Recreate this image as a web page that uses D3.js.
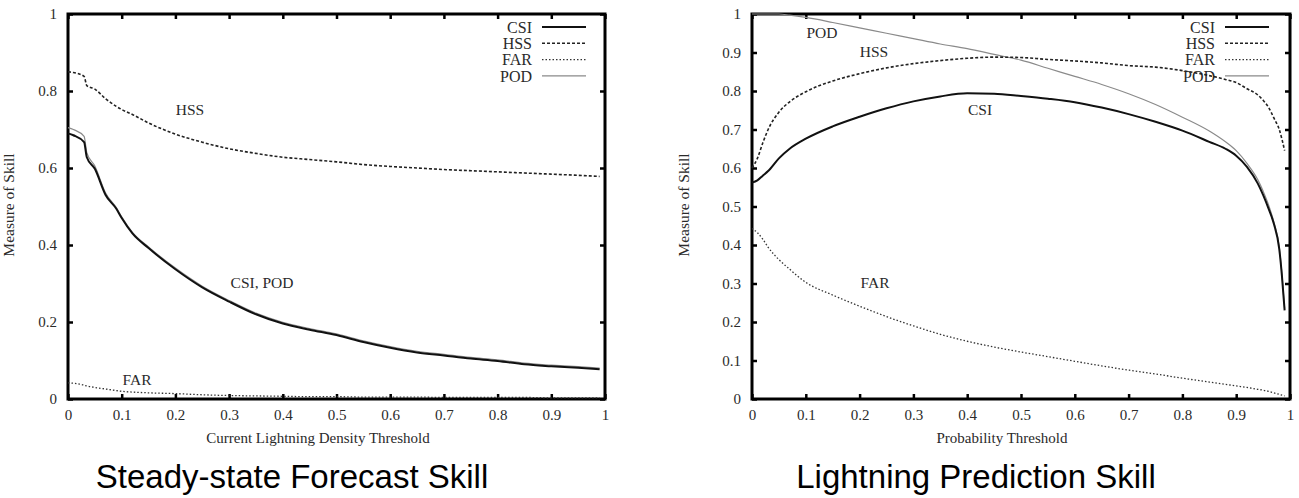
<!DOCTYPE html>
<html>
<head>
<meta charset="utf-8">
<script src="https://cdn.jsdelivr.net/npm/d3@7"></script>
<style>
  body { margin: 0; background: #fff; }
  svg { display: block; }
  .serif { font-family: "Liberation Serif", "Times New Roman", serif; fill: #2a2a2a; }
</style>
</head>
<body>
<div id="chart"></div>
<script>
// ---- data ----
let leftX = [0, 0.01, 0.03, 0.035, 0.05, 0.07, 0.09, 0.1, 0.12, 0.15, 0.2, 0.25, 0.3, 0.35, 0.4, 0.45, 0.5, 0.55, 0.6, 0.65, 0.7, 0.75, 0.8, 0.85, 0.9, 0.95, 0.99]
let leftCSI = [0.690, 0.685, 0.667, 0.628, 0.598, 0.530, 0.494, 0.470, 0.430, 0.392, 0.337, 0.290, 0.253, 0.220, 0.196, 0.180, 0.166, 0.148, 0.133, 0.121, 0.113, 0.105, 0.099, 0.090, 0.085, 0.081, 0.077]
let leftHSS = [0.850, 0.848, 0.838, 0.814, 0.805, 0.780, 0.760, 0.752, 0.739, 0.717, 0.688, 0.667, 0.650, 0.638, 0.628, 0.622, 0.616, 0.609, 0.604, 0.600, 0.596, 0.593, 0.590, 0.587, 0.584, 0.581, 0.578]
let leftFAR = [0.042, 0.041, 0.036, 0.034, 0.030, 0.026, 0.022, 0.020, 0.018, 0.016, 0.014, 0.011, 0.009, 0.008, 0.007, 0.006, 0.006, 0.005, 0.005, 0.005, 0.004, 0.004, 0.004, 0.004, 0.003, 0.003, 0.003]
let leftPOD = [0.705, 0.700, 0.682, 0.640, 0.605, 0.535, 0.497, 0.473, 0.433, 0.395, 0.340, 0.293, 0.256, 0.223, 0.199, 0.183, 0.169, 0.151, 0.136, 0.124, 0.116, 0.108, 0.102, 0.093, 0.088, 0.084, 0.080]

let rightX = [0, 0.01, 0.02, 0.03, 0.05, 0.07, 0.1, 0.15, 0.2, 0.25, 0.3, 0.35, 0.4, 0.45, 0.5, 0.55, 0.6, 0.65, 0.7, 0.75, 0.8, 0.85, 0.88, 0.9, 0.92, 0.94, 0.95, 0.96, 0.97, 0.98, 0.985, 0.99]
let rightCSI = [0.562, 0.568, 0.580, 0.592, 0.625, 0.650, 0.676, 0.708, 0.733, 0.755, 0.773, 0.786, 0.794, 0.793, 0.787, 0.780, 0.771, 0.757, 0.740, 0.720, 0.697, 0.668, 0.650, 0.632, 0.603, 0.560, 0.530, 0.495, 0.455, 0.390, 0.320, 0.230]
let rightHSS = [0.600, 0.625, 0.665, 0.700, 0.745, 0.772, 0.798, 0.826, 0.845, 0.860, 0.871, 0.879, 0.885, 0.888, 0.887, 0.882, 0.878, 0.873, 0.866, 0.862, 0.853, 0.840, 0.830, 0.822, 0.806, 0.790, 0.776, 0.758, 0.730, 0.700, 0.675, 0.645]
let rightFAR = [0.443, 0.432, 0.415, 0.394, 0.362, 0.337, 0.303, 0.270, 0.241, 0.214, 0.190, 0.168, 0.150, 0.135, 0.122, 0.110, 0.098, 0.086, 0.075, 0.065, 0.054, 0.044, 0.038, 0.034, 0.030, 0.025, 0.023, 0.020, 0.016, 0.012, 0.010, 0.008]
let rightPOD = [1.000, 1.000, 1.000, 1.000, 1.000, 0.997, 0.991, 0.978, 0.964, 0.950, 0.936, 0.922, 0.910, 0.895, 0.880, 0.859, 0.838, 0.817, 0.793, 0.765, 0.732, 0.696, 0.668, 0.645, 0.612, 0.570, 0.540, 0.505, 0.460, 0.395, 0.325, 0.235]

let seriesNames = ["CSI", "HSS", "FAR", "POD"]
let xTicks = [0, 0.1, 0.2, 0.3, 0.4, 0.5, 0.6, 0.7, 0.8, 0.9, 1]
let leftYTicks = [0, 0.2, 0.4, 0.6, 0.8, 1]
let rightYTicks = [0, 0.1, 0.2, 0.3, 0.4, 0.5, 0.6, 0.7, 0.8, 0.9, 1]

const width = 1299
const height = 498

// line style per series
const styles = {
    CSI: { stroke: "#111", width: 2, dash: null },
    HSS: { stroke: "#222", width: 1.6, dash: "3,2" },
    FAR: { stroke: "#333", width: 1.3, dash: "1.5,2" },
    POD: { stroke: "#8a8a8a", width: 1.2, dash: null }
}

const svg = d3.select("#chart")
    .append("svg")
    .attr("width", width)
    .attr("height", height)

function drawPanel(cfg) {
    const x = d3.scaleLinear().domain([0, 1]).range([cfg.left, cfg.right])
    const y = d3.scaleLinear().domain([0, 1]).range([cfg.bottom, cfg.top])
    const g = svg.append("g")

    // axes with inward ticks
    g.append("g")
        .attr("transform", `translate(0,${cfg.bottom})`)
        .call(d3.axisBottom(x).tickValues(xTicks).tickFormat(d3.format("")).tickSizeInner(-5).tickSizeOuter(0).tickPadding(10))
    g.append("g")
        .attr("transform", `translate(${cfg.left},0)`)
        .call(d3.axisLeft(y).tickValues(cfg.yTicks).tickFormat(d3.format("")).tickSizeInner(-5).tickSizeOuter(0).tickPadding(11))
    g.append("g")
        .attr("transform", `translate(0,${cfg.top})`)
        .call(d3.axisTop(x).tickValues(xTicks).tickFormat("").tickSizeInner(-5).tickSizeOuter(0))
    g.append("g")
        .attr("transform", `translate(${cfg.right},0)`)
        .call(d3.axisRight(y).tickValues(cfg.yTicks).tickFormat("").tickSizeInner(-5).tickSizeOuter(0))

    g.selectAll(".domain").remove()
    g.selectAll(".tick line").attr("stroke", "#000").attr("stroke-width", 2.5)
    g.selectAll(".tick text")
        .attr("class", "serif")
        .attr("font-size", 15)
        .attr("fill", "#2a2a2a")

    // frame
    g.append("rect")
        .attr("x", cfg.left)
        .attr("y", cfg.top)
        .attr("width", cfg.right - cfg.left)
        .attr("height", cfg.bottom - cfg.top)
        .attr("fill", "none")
        .attr("stroke", "#000")
        .attr("stroke-width", 3)

    // legend (drawn under curves)
    const legend = g.append("g")
    seriesNames.forEach((name, i) => {
        const ly = cfg.top + 13 + i * 16.3
        legend.append("text")
            .attr("class", "serif")
            .attr("x", cfg.legendX)
            .attr("y", ly)
            .attr("dy", "0.35em")
            .attr("text-anchor", "end")
            .attr("font-size", 16)
            .text(name)
        legend.append("line")
            .attr("x1", cfg.legendX + 10)
            .attr("x2", cfg.legendX + 54)
            .attr("y1", ly)
            .attr("y2", ly)
            .attr("stroke", styles[name].stroke)
            .attr("stroke-width", styles[name].width)
            .attr("stroke-dasharray", styles[name].dash)
    })

    // curves
    const line = d3.line()
        .x(d => x(d[0]))
        .y(d => y(d[1]))
        .curve(d3.curveMonotoneX)
    const order = ["FAR", "POD", "HSS", "CSI"]
    order.forEach(name => {
        const vals = cfg.series[name]
        g.append("path")
            .datum(cfg.xs.map((v, i) => [v, vals[i]]))
            .attr("d", line)
            .attr("fill", "none")
            .attr("stroke", styles[name].stroke)
            .attr("stroke-width", styles[name].width)
            .attr("stroke-dasharray", styles[name].dash)
    })

    // in-plot annotations
    g.selectAll("text.note")
        .data(cfg.notes)
        .join("text")
        .attr("class", "serif note")
        .attr("x", d => d.x)
        .attr("y", d => d.y)
        .attr("dy", "0.35em")
        .attr("text-anchor", "middle")
        .attr("font-size", 15.5)
        .text(d => d.t)

    // axis titles
    g.append("text")
        .attr("class", "serif")
        .attr("x", cfg.xLabelX)
        .attr("y", 443)
        .attr("text-anchor", "middle")
        .attr("font-size", 15)
        .text(cfg.xLabel)
    g.append("text")
        .attr("class", "serif")
        .attr("transform", `translate(${cfg.yLabelX},205) rotate(-90)`)
        .attr("text-anchor", "middle")
        .attr("font-size", 15.5)
        .text("Measure of Skill")

    // panel title
    g.append("text")
        .attr("x", cfg.titleX)
        .attr("y", 488)
        .attr("text-anchor", "middle")
        .attr("font-family", "'Liberation Sans', Arial, sans-serif")
        .attr("font-size", 33)
        .attr("fill", "#000")
        .text(cfg.title)
}

drawPanel({
    left: 68, right: 605, top: 14, bottom: 399,
    yTicks: leftYTicks,
    xs: leftX,
    series: { CSI: leftCSI, HSS: leftHSS, FAR: leftFAR, POD: leftPOD },
    legendX: 532,
    notes: [{ t: "HSS", x: 190, y: 110 }, { t: "CSI, POD", x: 262, y: 283 }, { t: "FAR", x: 137, y: 380 }],
    xLabel: "Current Lightning Density Threshold", xLabelX: 318,
    yLabelX: 14,
    title: "Steady-state Forecast Skill", titleX: 292
})

drawPanel({
    left: 752, right: 1290, top: 14, bottom: 399,
    yTicks: rightYTicks,
    xs: rightX,
    series: { CSI: rightCSI, HSS: rightHSS, FAR: rightFAR, POD: rightPOD },
    legendX: 1215,
    notes: [{ t: "POD", x: 822, y: 33 }, { t: "HSS", x: 874, y: 52 }, { t: "CSI", x: 980, y: 110 }, { t: "FAR", x: 875, y: 283 }],
    xLabel: "Probability Threshold", xLabelX: 1002,
    yLabelX: 689,
    title: "Lightning Prediction Skill", titleX: 976
})
</script>
</body>
</html>
